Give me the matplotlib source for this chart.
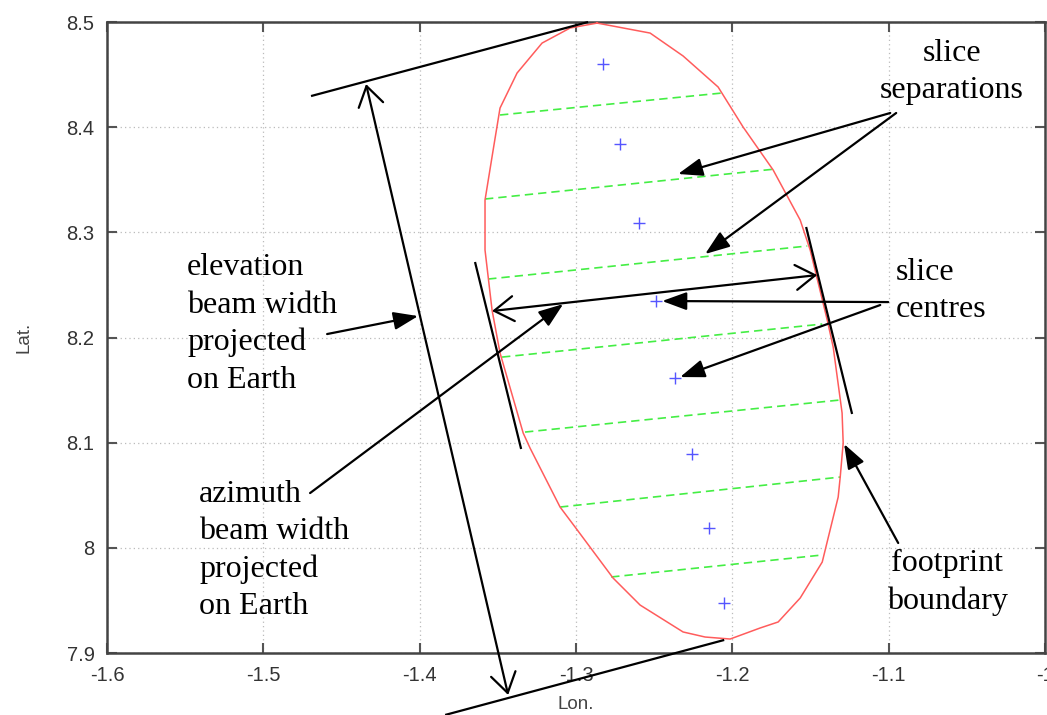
import matplotlib
matplotlib.use("Agg")
import matplotlib.pyplot as plt
from matplotlib.ticker import FuncFormatter

# footprint boundary (lon, lat), traced clockwise from the top
foot_lon = [-1.2865, -1.2526, -1.2315, -1.2091, -1.1931, -1.1739, -1.1566, -1.1502,
            -1.1393, -1.1355, -1.1298, -1.1291, -1.1310, -1.1323, -1.1425, -1.1566,
            -1.1707, -1.1822, -1.2014, -1.2174, -1.2315, -1.2590, -1.2763, -1.3006,
            -1.3102, -1.3294, -1.3338, -1.3486, -1.3537, -1.3582, -1.3582, -1.3530,
            -1.3486, -1.3377, -1.3217, -1.3038, -1.2865]
foot_lat = [8.499, 8.4895, 8.4677, 8.4382, 8.4001, 8.3593, 8.3117, 8.2832,
            8.2166, 8.1910, 8.1282, 8.0997, 8.0673, 8.0483, 7.9865, 7.9523,
            7.9295, 7.9238, 7.9133, 7.9152, 7.9200, 7.9456, 7.9713, 8.0198,
            8.0388, 8.0949, 8.1092, 8.1853, 8.2261, 8.2832, 8.3307, 8.3783,
            8.4182, 8.4515, 8.4800, 8.4943, 8.499]

# slice separations: start/end points
sep_lon0 = [-1.3486, -1.3582, -1.3562, -1.3473, -1.3326, -1.3102, -1.2775]
sep_lat0 = [8.4116, 8.3317, 8.2556, 8.1814, 8.1101, 8.0388, 7.9723]
sep_lon1 = [-1.2065, -1.1726, -1.1521, -1.1425, -1.1310, -1.1310, -1.1425]
sep_lat1 = [8.4325, 8.3602, 8.2870, 8.2128, 8.1406, 8.0673, 7.9932]

# slice centres
cen_lon = [-1.2827, -1.2718, -1.2596, -1.2488, -1.2366, -1.2257, -1.2148, -1.2052]
cen_lat = [8.460, 8.384, 8.3089, 8.2347, 8.1615, 8.0892, 8.0189, 7.9475]

# beam edges (plain black lines)
edge_lon = [(-1.4695, -1.2923), (-1.3837, -1.2052), (-1.3646, -1.3351), (-1.1528, -1.1234)]
edge_lat = [(8.4296, 8.5000), (7.8411, 7.9124), (8.2718, 8.0940), (8.3051, 8.1273)]

# beam width double arrows
width_lon = [(-1.4343, -1.3434), (-1.3537, -1.1457)]
width_lat = [(8.4410, 7.8601), (8.2252, 8.2594)]

# label arrows: (from, to)
lab_lon = [(-1.4592, -1.4010), (-1.4701, -1.3082), (-1.0990, -1.2347), (-1.0952, -1.2174),
           (-1.1003, -1.2449), (-1.1054, -1.2334), (-1.0939, -1.1285)]
lab_lat = [(8.2033, 8.2204), (8.0521, 8.2318), (8.4135, 8.3555), (8.4135, 8.2794),
           (8.2337, 8.2347), (8.2309, 8.1624), (8.0046, 8.0987)]

xticks = [-1.6, -1.5, -1.4, -1.3, -1.2, -1.1, -1.0]
yticks = [7.9, 8.0, 8.1, 8.2, 8.3, 8.4, 8.5]

fig = plt.figure(figsize=(10.47, 7.15), dpi=100)
ax = fig.add_axes([0.1022, 0.0867, 0.8959, 0.8825])

ax.plot(foot_lon, foot_lat, color='#ff5c5c', lw=1.1, zorder=3)
for i in range(len(sep_lon0)):
    ax.plot([sep_lon0[i], sep_lon1[i]], [sep_lat0[i], sep_lat1[i]],
            color='#44ee44', lw=1.2, linestyle=(0, (5, 3)), zorder=2)
ax.plot(cen_lon, cen_lat, '+', color='#5555ff', ms=9, mew=1.0, zorder=3)

for lo, la in zip(edge_lon, edge_lat):
    ax.plot(lo, la, color='black', lw=1.6, clip_on=False, zorder=4, solid_capstyle='butt')

for lo, la in zip(width_lon, width_lat):
    ax.annotate('', xy=(lo[1], la[1]), xytext=(lo[0], la[0]), annotation_clip=False,
                arrowprops=dict(arrowstyle='<->,head_length=1.4,head_width=0.9',
                                mutation_scale=10, lw=1.6, color='black',
                                shrinkA=0, shrinkB=0))

for lo, la in zip(lab_lon, lab_lat):
    ax.annotate('', xy=(lo[1], la[1]), xytext=(lo[0], la[0]), annotation_clip=False,
                arrowprops=dict(arrowstyle='-|>,head_length=1.5,head_width=0.55',
                                mutation_scale=10, lw=1.6, color='black',
                                shrinkA=0, shrinkB=0))

# va='baseline' lines up the last line of each block
tkw = dict(family='Liberation Serif', fontsize=23, color='black', linespacing=1.37)
ax.text(-1.5488, 8.1524, 'elevation\nbeam width\nprojected\non Earth', ha='left', va='baseline', **tkw)
ax.text(-1.5411, 7.9371, 'azimuth\nbeam width\nprojected\non Earth', ha='left', va='baseline', **tkw)
ax.text(-1.0594, 8.4277, 'slice\nseparations', ha='center', va='baseline', multialignment='center', **tkw)
ax.text(-1.0952, 8.2195, 'slice\ncentres', ha='left', va='baseline', **tkw)
ax.text(-1.0626, 7.9418, 'footprint\nboundary', ha='center', va='baseline', multialignment='center', **tkw)

ax.set_xlim(-1.6, -1.0)
ax.set_ylim(7.9, 8.5)
ax.set_xticks(xticks)
ax.set_yticks(yticks)
fmt = FuncFormatter(lambda v, p: '%g' % round(v, 3))
ax.xaxis.set_major_formatter(fmt)
ax.yaxis.set_major_formatter(fmt)
ax.grid(True, color='#bbbbbb', lw=0.9, linestyle=(0, (1, 2.5)))
ax.tick_params(direction='in', length=7, width=1.5, color='#555555', top=True, right=True,
               labelsize=14.5, labelcolor='#333333', pad=9)
for lab in ax.get_xticklabels() + ax.get_yticklabels():
    lab.set_family('Liberation Sans')
for s in ax.spines.values():
    s.set_color('#444444')
    s.set_linewidth(1.8)

ax.set_xlabel('Lon.', family='Liberation Sans', fontsize=13.5, color='#444444')
ax.set_ylabel('Lat.', family='Liberation Sans', fontsize=13.5, color='#444444')
ax.xaxis.set_label_coords(0.5, -0.068)
ax.yaxis.set_label_coords(-0.079, 0.5)

fig.savefig('out.png', dpi=100)
